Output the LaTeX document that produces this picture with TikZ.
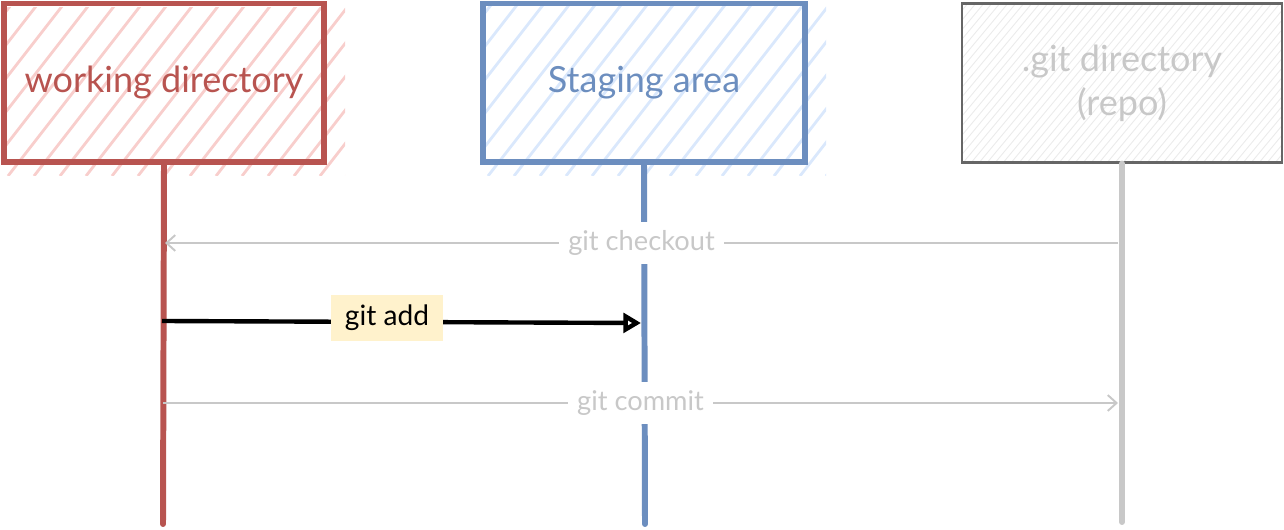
\documentclass[tikz,border=0pt]{standalone}
\usepackage{fontspec}
\setmainfont{Lato}
\usetikzlibrary{arrows.meta, positioning}
\definecolor{WdRed}{HTML}{B85450}
\definecolor{WdFill}{HTML}{F8CECC}
\definecolor{StBlue}{HTML}{6C8EBF}
\definecolor{StFill}{HTML}{DAE8FC}
\definecolor{RepoGray}{HTML}{666666}
\definecolor{RepoFill}{HTML}{EBEBEB}
\definecolor{LineGray}{HTML}{C8C8C8}
\definecolor{NoteYellow}{HTML}{FFF2CC}

\begin{document}
\begin{tikzpicture}[
        x=0.02cm, y=-0.02cm,
        area/.style={minimum width=6.4cm, minimum height=3.18cm, align=center, font=\fontsize{20.5}{25}\selectfont, inner sep=0pt},
        life/.style={line width=3.4pt, line cap=round},
        msg/.style={LineGray, line width=1.1pt, -{Straight Barb[length=5pt, width=9pt]}},
        lbl/.style={fill=white, text=LineGray, font=\fontsize{15.5}{18}\selectfont, inner sep=5pt}
    ]
        \useasboundingbox (0,0) rectangle (1284,530);

        % hatched fills
        \begin{scope}
            \clip (5,8) rectangle (345,176);
            \foreach \i in {-200,-174,...,360} \draw[WdFill, line width=1.6pt] (\i,176) -- ++(140,-180);
        \end{scope}
        \begin{scope}
            \clip (483,6) rectangle (826,176);
            \foreach \i in {280,306,...,840} \draw[StFill, line width=1.6pt] (\i,176) -- ++(140,-180);
        \end{scope}
        \begin{scope}
            \clip (962,3) rectangle (1282,163);
            \foreach \i in {800,808,...,1290} \draw[RepoFill, line width=0.5pt] (\i,176) -- ++(150,-180);
        \end{scope}

        % participants
        \node[area, draw=WdRed, line width=3.4pt, text=WdRed] (wd) at (164,83) {working directory};
        \node[area, draw=StBlue, line width=3.4pt, text=StBlue, minimum width=6.44cm] (stage) at (644,83) {Staging area};
        \node[area, draw=RepoGray, line width=1.2pt, text=LineGray] (repo) at (1122,83) {.git directory\\(repo)};

        % lifelines
        \coordinate (wd end) at (163,524);
        \coordinate (stage end) at (645,524);
        \coordinate (repo end) at (1122,522);
        \draw[life, WdRed] (wd.south) -- (wd end);
        \draw[life, StBlue] (stage.south) -- (stage end);
        \draw[life, LineGray] (repo.south) -- (repo end);

        % messages
        \coordinate (co from) at (1118,243);
        \coordinate (co to) at (165,243);
        \draw[msg] (co from) -- node[lbl] {git checkout} (co to);

        \coordinate (add from) at (162,321);
        \coordinate (add to) at (641,323);
        \draw[line width=2.5pt, -{Triangle[open, length=10pt, width=11pt]}] (add from) -- (add to);
        \node[fill=NoteYellow, font=\fontsize{16}{18}\selectfont, minimum width=2.26cm, minimum height=0.94cm] (addlbl) at (387,318) {git add};

        \coordinate (ci from) at (163,403);
        \coordinate (ci to) at (1118,403);
        \draw[msg] (ci from) -- node[lbl] {git commit} (ci to);
    \end{tikzpicture}
\end{document}
